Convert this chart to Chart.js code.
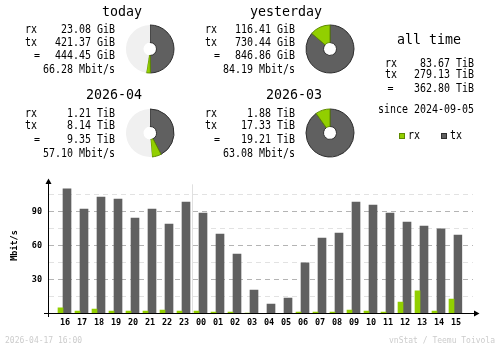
<!DOCTYPE html>
<html>
<head>
<meta charset="utf-8">
<script src="https://cdn.jsdelivr.net/npm/chart.js@4.4.1/dist/chart.umd.min.js"></script>
<style>
  html, body { margin: 0; padding: 0; background: #fff; }
  #wrap { position: relative; width: 500px; height: 348px; overflow: hidden; background: #fff; }
  #main { position: absolute; left: 0; top: 0; }
  .pie { position: absolute; width: 50px; height: 50px; }
</style>
</head>
<body>
<div id="wrap">
  <canvas id="main" width="500" height="348"></canvas>
  <canvas class="pie" id="pie0" width="50" height="50" style="left:125px;top:24px"></canvas>
  <canvas class="pie" id="pie1" width="50" height="50" style="left:305px;top:24px"></canvas>
  <canvas class="pie" id="pie2" width="50" height="50" style="left:125px;top:107.5px"></canvas>
  <canvas class="pie" id="pie3" width="50" height="50" style="left:305px;top:107.5px"></canvas>
</div>
<script>
// ---- summary periods ----
const periodNames = ['today', 'yesterday', '2026-04', '2026-03'];
const periodRx    = [23.08, 116.41, 1.21, 1.88];
const periodTx    = [421.37, 730.44, 8.14, 17.33];
const periodTotal = [444.45, 846.86, 9.35, 19.21];
const periodUnit  = ['GiB', 'GiB', 'TiB', 'TiB'];
const periodRate  = [66.28, 84.19, 57.10, 63.08];

// ---- all time ----
const allTimeValues = [83.67, 279.13, 362.80];
const allTimeUnit = 'TiB';
const allTimeSince = '2024-09-05';

// ---- hourly average rate, Mbit/s ----
const hours  = ['16','17','18','19','20','21','22','23','00','01','02','03',
                '04','05','06','07','08','09','10','11','12','13','14','15'];
const rxRate = [4.9, 2.2, 4.0, 2.2, 2.2, 2.2, 3.1, 2.2, 2.2, 1.3, 1.3, 0.3,
                0.2, 0.2, 1.3, 1.3, 1.3, 3.1, 2.2, 1.3, 10.1, 19.9, 2.2, 12.8];
const txRate = [109.9, 92.2, 102.8, 101.0, 84.3, 92.2, 79.0, 98.4, 88.7, 70.1, 52.5, 20.7,
                8.4, 13.7, 44.6, 66.6, 71.0, 98.4, 95.7, 88.7, 80.7, 77.2, 74.6, 69.3];
const rateTicks = [30, 60, 90];

const stampText = '2026-04-17 16:00';
const creditText = 'vnStat / Teemu Toivola';

const COL = {
  rx: '#92cf00', rxEdge: '#5e8a00',
  tx: '#606060', txEdge: '#2e2e2e',
  pieBg: '#f0f0f0',
  gridMajor: '#b4b4b4', gridMinor: '#e2e2e2', daySep: '#e0e0e0',
  text: '#000000', faint: '#cccccc'
};

const MONO = '"DejaVu Sans Mono", "Liberation Mono", monospace';
const F_TITLE = '13.3px ' + MONO;
const F_BODY = '11.5px ' + MONO;
const BODY_SX = 6 / 6.92;          // narrow the body face to a 6px cell
const F_TINY = '8px ' + MONO;

function txt(ctx, s, x, y, font, align, sx, color) {
  ctx.save();
  ctx.font = font;
  ctx.fillStyle = color || COL.text;
  ctx.textAlign = align || 'left';
  ctx.textBaseline = 'alphabetic';
  ctx.translate(x, y);
  ctx.scale(sx || 1, 1);
  ctx.fillText(s, 0, 0);
  ctx.restore();
}

// text blocks above the graph
const header = {
  id: 'header',
  afterDraw(chart) {
    const ctx = chart.ctx;
    const offsets = [[0, 0], [180, 0], [0, 83.5], [180, 83.5]];
    periodNames.forEach((name, i) => {
      const [dx, dy] = offsets[i];
      const u = ' ' + periodUnit[i];
      txt(ctx, name, 142 + dx, 15.5 + dy, F_TITLE, 'right');
      txt(ctx, 'rx', 25 + dx, 33.3 + dy, F_BODY, 'left', BODY_SX);
      txt(ctx, 'tx', 25 + dx, 45.7 + dy, F_BODY, 'left', BODY_SX);
      txt(ctx, '=', 34 + dx, 59 + dy, F_BODY, 'left', BODY_SX);
      txt(ctx, periodRx[i].toFixed(2) + u, 115 + dx, 33.3 + dy, F_BODY, 'right', BODY_SX);
      txt(ctx, periodTx[i].toFixed(2) + u, 115 + dx, 45.7 + dy, F_BODY, 'right', BODY_SX);
      txt(ctx, periodTotal[i].toFixed(2) + u, 115 + dx, 59 + dy, F_BODY, 'right', BODY_SX);
      txt(ctx, periodRate[i].toFixed(2) + ' Mbit/s', 115 + dx, 73.3 + dy, F_BODY, 'right', BODY_SX);
    });

    // all time
    txt(ctx, 'all time', 429, 44, F_TITLE, 'center');
    const u = ' ' + allTimeUnit;
    txt(ctx, 'rx', 385, 66.6, F_BODY, 'left', BODY_SX);
    txt(ctx, 'tx', 385, 78.3, F_BODY, 'left', BODY_SX);
    txt(ctx, '=', 387.5, 91.6, F_BODY, 'left', BODY_SX);
    txt(ctx, allTimeValues[0].toFixed(2) + u, 474, 66.6, F_BODY, 'right', BODY_SX);
    txt(ctx, allTimeValues[1].toFixed(2) + u, 474, 78.3, F_BODY, 'right', BODY_SX);
    txt(ctx, allTimeValues[2].toFixed(2) + u, 474, 91.6, F_BODY, 'right', BODY_SX);
    txt(ctx, 'since ' + allTimeSince, 474, 112.6, F_BODY, 'right', BODY_SX);

    // legend keys
    const keys = [[399, 'rx', COL.rx, COL.rxEdge], [441, 'tx', COL.tx, COL.txEdge]];
    keys.forEach(([kx, label, fill, edge]) => {
      ctx.save();
      ctx.fillStyle = fill;
      ctx.fillRect(kx, 133, 6, 6);
      ctx.strokeStyle = edge;
      ctx.lineWidth = 1;
      ctx.strokeRect(kx + 0.5, 133.5, 5, 5);
      ctx.restore();
      txt(ctx, label, kx + 9, 138.6, F_BODY, 'left', BODY_SX);
    });

    // footer
    txt(ctx, stampText, 5, 342.5, F_TINY, 'left', 1, COL.faint);
    txt(ctx, creditText, 495, 342.5, F_TINY, 'right', 1, COL.faint);
  }
};

// dashed guide lines, day separator and axis arrows
const frame = {
  id: 'frame',
  beforeDatasetsDraw(chart) {
    const { ctx, scales: { x, y } } = chart;
    ctx.save();
    ctx.lineWidth = 1;
    ctx.setLineDash([5, 4]);
    for (let v = 15; v < y.max; v += 15) {
      const py = y.getPixelForValue(v);
      ctx.strokeStyle = (v % 30 === 0) ? COL.gridMajor : COL.gridMinor;
      ctx.beginPath();
      ctx.moveTo(49, py);
      ctx.lineTo(473, py);
      ctx.stroke();
    }
    ctx.setLineDash([]);
    const iMid = hours.indexOf('00');
    const sx = (x.getPixelForValue(iMid - 1) + x.getPixelForValue(iMid)) / 2 + 2;
    ctx.strokeStyle = COL.daySep;
    ctx.beginPath();
    ctx.moveTo(sx, y.getPixelForValue(114));
    ctx.lineTo(sx, y.getPixelForValue(0));
    ctx.stroke();
    ctx.restore();
  },
  afterDatasetsDraw(chart) {
    const { ctx, scales: { y } } = chart;
    const y0 = y.getPixelForValue(0);
    ctx.save();
    ctx.strokeStyle = '#000';
    ctx.fillStyle = '#000';
    ctx.lineWidth = 1;
    ctx.beginPath();
    ctx.moveTo(44, y0); ctx.lineTo(476, y0);
    ctx.moveTo(48.5, y0 + 3.5); ctx.lineTo(48.5, 182);
    ctx.stroke();
    ctx.beginPath();
    ctx.moveTo(474, y0 - 3); ctx.lineTo(479.5, y0); ctx.lineTo(474, y0 + 3); ctx.closePath();
    ctx.fill();
    ctx.beginPath();
    ctx.moveTo(45.5, 184); ctx.lineTo(48.5, 178.5); ctx.lineTo(51.5, 184); ctx.closePath();
    ctx.fill();
    ctx.restore();
  }
};

const tickFont = { family: MONO, size: 8.5, weight: 'bold' };

new Chart(document.getElementById('main'), {
  type: 'bar',
  data: {
    labels: hours,
    datasets: [
      { label: 'rx', data: rxRate, backgroundColor: COL.rx, barThickness: 5, borderWidth: 0 },
      { label: 'tx', data: txRate, backgroundColor: COL.tx, barThickness: 8, borderWidth: 0 }
    ]
  },
  options: {
    responsive: false,
    animation: false,
    events: [],
    layout: { padding: { left: 0, right: 37.5, top: 177.5, bottom: 0 } },
    plugins: { legend: { display: false }, tooltip: { enabled: false } },
    scales: {
      x: {
        grid: { display: false, drawTicks: false },
        border: { display: false },
        ticks: { font: tickFont, color: '#000', padding: 4, labelOffset: 2, maxRotation: 0, autoSkip: false },
        afterFit(s) { s.height = 348 - 313.5; }
      },
      y: {
        min: 0, max: 120,
        grid: { display: false, drawTicks: false },
        border: { display: false },
        afterBuildTicks(s) { s.ticks = rateTicks.map(v => ({ value: v })); },
        ticks: { font: tickFont, color: '#000', padding: 12.5 },
        title: { display: true, text: 'Mbit/s', font: tickFont, color: '#000', padding: { top: 9.4, bottom: 0 } },
        afterFit(s) { s.width = 54.5; }
      }
    }
  },
  plugins: [frame, header]
});

// share-of-traffic rings; the running period is measured against its predecessor
periodNames.forEach((name, i) => {
  const pair = i - (i % 2);
  const full = Math.max(periodTotal[pair], periodTotal[pair + 1]);
  new Chart(document.getElementById('pie' + i), {
    type: 'doughnut',
    data: {
      labels: ['tx', 'rx', ''],
      datasets: [{
        data: [periodTx[i], periodRx[i], Math.max(full - periodTotal[i], 0)],
        backgroundColor: [COL.tx, COL.rx, COL.pieBg],
        borderColor: [COL.txEdge, COL.rxEdge, COL.pieBg],
        borderWidth: [1, 1, 0]
      }]
    },
    options: {
      responsive: false,
      animation: false,
      events: [],
      radius: 24,
      cutout: '27%',
      layout: { padding: 0 },
      plugins: { legend: { display: false }, tooltip: { enabled: false } }
    }
  });
});
</script>
</body>
</html>
